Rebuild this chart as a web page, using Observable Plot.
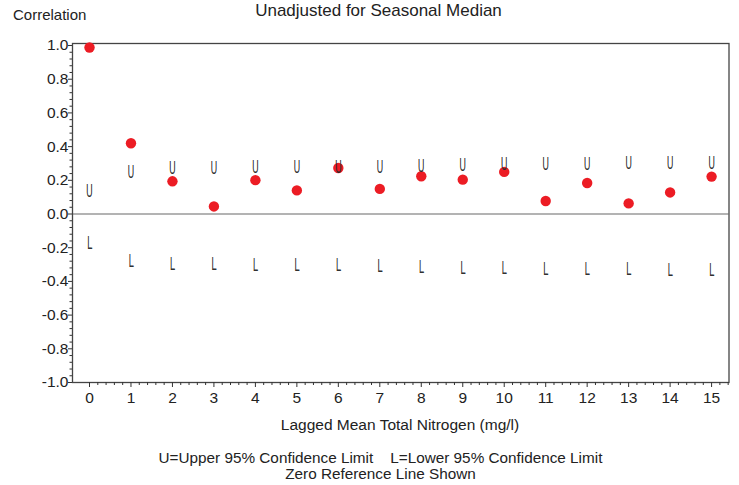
<!DOCTYPE html>
<html>
<head>
<meta charset="utf-8">
<script src="https://cdn.jsdelivr.net/npm/d3@7"></script>
<script src="https://cdn.jsdelivr.net/npm/@observablehq/plot@0.6"></script>
<style>
  html, body { margin: 0; padding: 0; background: #fff; }
  #wrap { position: relative; width: 739px; height: 485px; overflow: hidden; font-family: "Liberation Sans", Arial, sans-serif; color: #222; }
  .hdr { position: relative; height: 30px; }
  .ftr { position: relative; height: 75px; }
  .t { position: absolute; white-space: pre; line-height: 1; }
  #chart svg { display: block; }
</style>
</head>
<body>
<div id="wrap">
  <div class="hdr">
    <div class="t" id="ylab" style="left:13px; top:7px; font-size:15px;"></div>
    <div class="t" id="title" style="left:0; width:757px; text-align:center; top:2px; font-size:17px;"></div>
  </div>
  <div id="chart"></div>
  <div class="ftr">
    <div class="t" id="xlab" style="left:72px; width:656px; text-align:center; top:7px; font-size:15.5px;"></div>
    <div class="t" id="note1" style="left:0; width:761px; text-align:center; top:40px; font-size:15.3px;"></div>
    <div class="t" id="note2" style="left:0; width:761px; text-align:center; top:56px; font-size:15.3px;"></div>
  </div>
</div>
<script>
// ---- data ----
const lags = [0, 1, 2, 3, 4, 5, 6, 7, 8, 9, 10, 11, 12, 13, 14, 15];
const corr = [0.988, 0.42, 0.194, 0.045, 0.201, 0.14, 0.273, 0.149, 0.224, 0.204, 0.25, 0.077, 0.184, 0.063, 0.128, 0.222];
const upper = [0.134, 0.247, 0.267, 0.267, 0.273, 0.273, 0.273, 0.277, 0.283, 0.287, 0.293, 0.293, 0.293, 0.297, 0.297, 0.297];
const lower = [-0.175, -0.282, -0.298, -0.298, -0.303, -0.307, -0.307, -0.313, -0.317, -0.321, -0.321, -0.327, -0.327, -0.331, -0.337, -0.337];
const yTicks = [-1.0, -0.8, -0.6, -0.4, -0.2, 0.0, 0.2, 0.4, 0.6, 0.8, 1.0];
const xTicks = [0, 1, 2, 3, 4, 5, 6, 7, 8, 9, 10, 11, 12, 13, 14, 15];
const upperSymbol = "U";
const lowerSymbol = "L";

const titleText = "Unadjusted for Seasonal Median";
const yLabel = "Correlation";
const xLabel = "Lagged Mean Total Nitrogen (mg/l)";
const note1 = "U=Upper 95% Confidence Limit    L=Lower 95% Confidence Limit";
const note2 = "Zero Reference Line Shown";

document.getElementById("title").textContent = titleText;
document.getElementById("ylab").textContent = yLabel;
document.getElementById("xlab").textContent = xLabel;
document.getElementById("note1").textContent = note1;
document.getElementById("note2").textContent = note2;

const rows = lags.map((lag, i) => ({lag, corr: corr[i], upper: upper[i], lower: lower[i]}));

const yMinor = d3.range(-25, 26).map(k => k * 0.04).filter(v => Math.abs(v * 5 - Math.round(v * 5)) > 1e-6);
const xMinor = d3.range(0, 78).map(k => k * 0.2).filter(v => Math.abs(v - Math.round(v)) > 1e-6);

const fmtY = d => (Math.abs(d) < 1e-9 ? "0.0" : d.toFixed(1));
const symFont = "'DejaVu Sans', sans-serif";

const chart = Plot.plot({
  width: 739,
  height: 380,
  marginTop: 13,
  marginBottom: 28,
  marginLeft: 72,
  marginRight: 10.5,
  x: {domain: [-0.41, 15.42]},
  y: {domain: [-1, 1.012]},
  style: {fontFamily: "'Liberation Sans', Arial, sans-serif", fontSize: "15.5px", color: "#222", background: "white"},
  marks: [
    Plot.ruleY([0], {stroke: "#9a9a9a", strokeWidth: 1.6}),
    Plot.frame({stroke: "#444", strokeWidth: 1.3}),
    Plot.axisY(yTicks, {tickSize: 4, tickPadding: 0, tickFormat: fmtY, label: null, fontSize: 15.5, stroke: "#333"}),
    Plot.axisY(yMinor, {tickSize: 2.5, tickFormat: () => "", label: null, stroke: "#333"}),
    Plot.axisX(xTicks, {tickSize: 5, tickPadding: 4, tickFormat: d => String(d), label: null, fontSize: 15.5, stroke: "#333"}),
    Plot.axisX(xMinor, {tickSize: 3, tickFormat: () => "", label: null, stroke: "#333"}),
    Plot.dot(rows, {x: "lag", y: "corr", r: 5.2, fill: "#ec1c24", stroke: "none"}),
    Plot.text(rows, {x: "lag", y: "upper", text: () => upperSymbol, fontFamily: symFont, fontSize: 17, fill: "#2a2a2a", fillOpacity: 0.97}),
    Plot.text(rows, {x: "lag", y: "lower", text: () => lowerSymbol, fontFamily: symFont, fontSize: 17, fill: "#2a2a2a", fillOpacity: 0.97})
  ]
});
// narrow the confidence-limit symbols (condensed glyph look), keeping their positions
d3.select(chart).selectAll('g[aria-label="text"] text').each(function() {
  const t = this.getAttribute("transform") || "";
  this.setAttribute("transform", `${t} scale(0.55,1)`);
});
document.getElementById("chart").appendChild(chart);
</script>
</body>
</html>
